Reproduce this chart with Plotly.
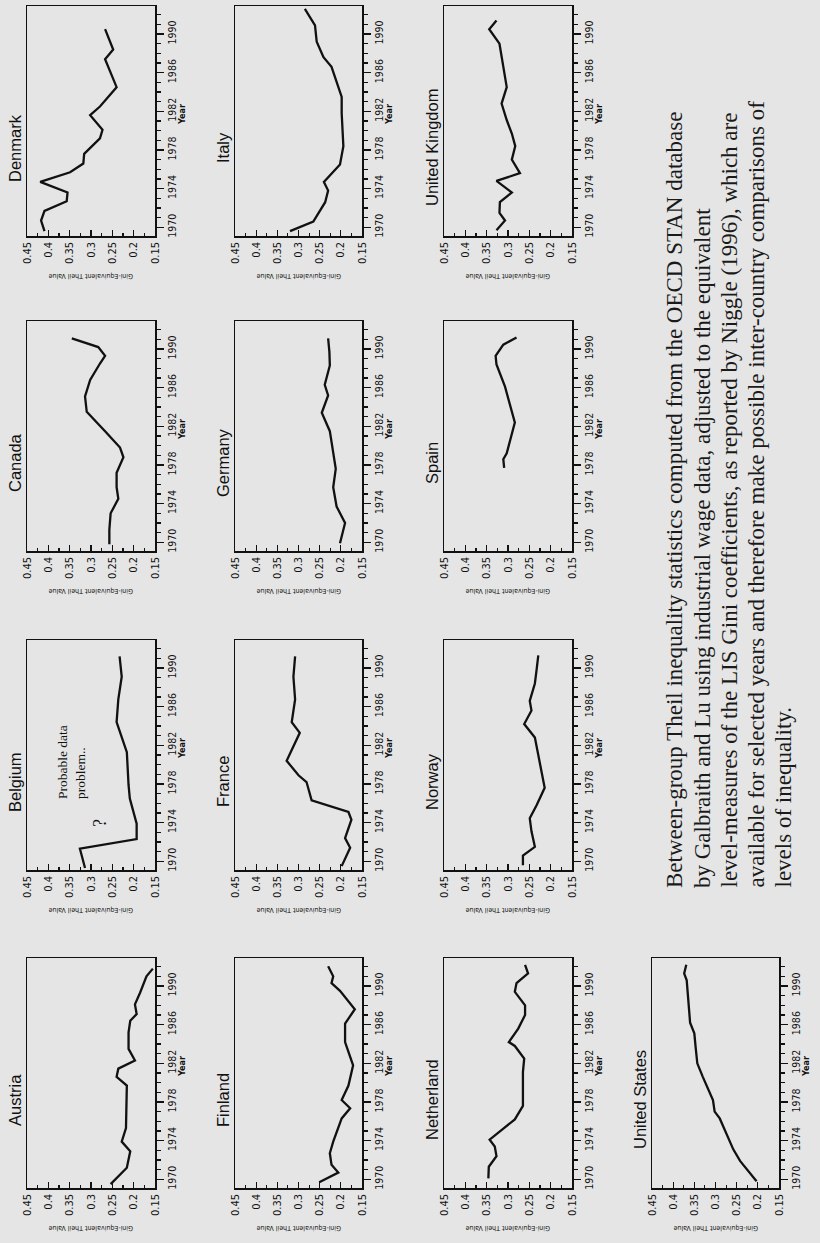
import plotly.graph_objects as go

W, H = 820, 1243

# ---------------- data ----------------
denmark_years = [1969.6, 1970.7, 1971.7, 1972.7, 1973.6, 1974.7, 1975.7, 1976.6, 1977.6, 1979.2, 1980.1, 1981.6, 1982.5, 1984.5, 1987.4, 1988.4, 1990.5]
denmark_vals = [0.409, 0.417, 0.409, 0.357, 0.355, 0.419, 0.349, 0.318, 0.316, 0.279, 0.273, 0.302, 0.279, 0.240, 0.267, 0.248, 0.267]

italy_years = [1969.6, 1970.6, 1972.6, 1973.8, 1974.7, 1976.5, 1978.4, 1981.8, 1983.5, 1986.6, 1987.6, 1989.2, 1990.9, 1992.6]
italy_vals = [0.320, 0.265, 0.237, 0.230, 0.240, 0.202, 0.194, 0.198, 0.198, 0.222, 0.241, 0.257, 0.261, 0.285]

uk_years = [1969.7, 1970.7, 1971.5, 1972.6, 1973.6, 1974.8, 1975.6, 1977.0, 1978.4, 1979.7, 1981.1, 1982.8, 1984.5, 1986.6, 1989.0, 1990.5, 1991.4]
uk_vals = [0.327, 0.307, 0.320, 0.319, 0.291, 0.327, 0.272, 0.291, 0.283, 0.291, 0.303, 0.315, 0.303, 0.311, 0.320, 0.344, 0.327]

canada_years = [1969.8, 1971.3, 1973.0, 1974.5, 1975.7, 1977.2, 1978.8, 1979.8, 1981.5, 1983.5, 1985.1, 1986.8, 1988.5, 1989.3, 1990.2, 1991.1]
canada_vals = [0.257, 0.257, 0.254, 0.236, 0.240, 0.240, 0.224, 0.232, 0.267, 0.310, 0.314, 0.302, 0.279, 0.267, 0.283, 0.345]

germany_years = [1969.9, 1972.0, 1973.7, 1975.7, 1977.6, 1979.1, 1981.5, 1983.4, 1985.2, 1986.3, 1988.3, 1989.7, 1991.1]
germany_vals = [0.202, 0.190, 0.210, 0.218, 0.212, 0.218, 0.226, 0.245, 0.230, 0.238, 0.226, 0.227, 0.230]

spain_years = [1977.7, 1978.6, 1979.2, 1982.4, 1986.1, 1988.4, 1989.3, 1990.45, 1991.2]
spain_vals = [0.309, 0.311, 0.303, 0.284, 0.307, 0.327, 0.329, 0.311, 0.280]

belgium_years = [1969.3, 1971.3, 1972.3, 1973.9, 1976.5, 1977.9, 1981.3, 1983.3, 1984.4, 1986.75, 1989.1, 1991.2]
belgium_vals = [0.314, 0.326, 0.193, 0.193, 0.209, 0.212, 0.216, 0.232, 0.240, 0.236, 0.228, 0.233]

france_years = [1969.5, 1971.4, 1972.4, 1974.3, 1975.1, 1976.3, 1978.2, 1978.9, 1980.4, 1983.3, 1984.4, 1986.75, 1989.1, 1991.2]
france_vals = [0.198, 0.178, 0.190, 0.175, 0.182, 0.269, 0.281, 0.300, 0.328, 0.297, 0.316, 0.308, 0.312, 0.308]

norway_years = [1969.6, 1970.6, 1971.5, 1973.1, 1974.45, 1975.8, 1977.6, 1979.3, 1981.1, 1982.8, 1984.2, 1985.6, 1986.6, 1988.4, 1989.8, 1991.3]
norway_vals = [0.265, 0.265, 0.237, 0.245, 0.249, 0.233, 0.214, 0.222, 0.229, 0.237, 0.262, 0.245, 0.249, 0.237, 0.233, 0.229]

austria_years = [1969.5, 1971.2, 1972.9, 1973.9, 1975.3, 1979.1, 1979.7, 1980.6, 1981.45, 1982.3, 1983.5, 1985.2, 1986.4, 1987.1, 1988.1, 1989.3, 1991.0, 1991.8]
austria_vals = [0.254, 0.216, 0.208, 0.228, 0.218, 0.216, 0.216, 0.240, 0.236, 0.197, 0.212, 0.212, 0.208, 0.193, 0.197, 0.185, 0.170, 0.155]

finland_years = [1969.7, 1970.7, 1971.5, 1972.7, 1973.9, 1976.3, 1977.35, 1978.2, 1979.7, 1981.8, 1984.2, 1986.1, 1987.6, 1989.5, 1990.3, 1991.0, 1992.05]
finland_vals = [0.251, 0.206, 0.222, 0.226, 0.218, 0.198, 0.178, 0.198, 0.182, 0.171, 0.190, 0.190, 0.167, 0.202, 0.222, 0.218, 0.230]

netherland_years = [1970.1, 1971.3, 1972.4, 1973.4, 1974.1, 1975.1, 1976.2, 1977.6, 1981.1, 1982.5, 1983.8, 1984.2, 1985.6, 1987.0, 1988.0, 1989.4, 1990.3, 1991.3, 1992.2]
netherland_vals = [0.346, 0.345, 0.327, 0.331, 0.343, 0.315, 0.284, 0.265, 0.265, 0.262, 0.284, 0.298, 0.276, 0.260, 0.260, 0.284, 0.280, 0.253, 0.260]

us_years = [1969.8, 1971.9, 1973.1, 1974.3, 1975.0, 1976.3, 1977.0, 1978.2, 1980.6, 1982.0, 1983.7, 1985.1, 1986.2, 1987.9, 1989.5, 1990.6, 1991.3, 1992.2]
us_vals = [0.203, 0.242, 0.258, 0.270, 0.278, 0.290, 0.302, 0.306, 0.330, 0.343, 0.347, 0.350, 0.360, 0.364, 0.366, 0.368, 0.374, 0.369]

value_ticks = [0.45, 0.4, 0.35, 0.3, 0.25, 0.2, 0.15]
value_labels = ["0.45", "0.4", "0.35", "0.3", "0.25", "0.2", "0.15"]
year_ticks = [1970, 1974, 1978, 1982, 1986, 1990]
year_labels = ["1970", "1974", "1978", "1982", "1986", "1990"]

caption_lines = [
    "Between-group Theil inequality statistics computed from the OECD STAN database",
    "by Galbraith and Lu using industrial wage data, adjusted to the equivalent",
    "level-measures of the LIS Gini coefficients, as reported by Niggle (1996), which are",
    "available for selected years and therefore make possible inter-country comparisons of",
    "levels of inequality.",
]

series = [
    ("Denmark", denmark_years, denmark_vals),
    ("Italy", italy_years, italy_vals),
    ("United Kingdom", uk_years, uk_vals),
    ("Canada", canada_years, canada_vals),
    ("Germany", germany_years, germany_vals),
    ("Spain", spain_years, spain_vals),
    ("Belgium", belgium_years, belgium_vals),
    ("France", france_years, france_vals),
    ("Norway", norway_years, norway_vals),
    ("Austria", austria_years, austria_vals),
    ("Finland", finland_years, finland_vals),
    ("Netherland", netherland_years, netherland_vals),
    ("United States", us_years, us_vals),
]

# ---------------- layout geometry (pixels of the page) ----------------
col_x = [(27, 155), (235, 362), (444, 572), (652, 779)]
row_y = [(6, 236), (321, 551), (640, 870), (958, 1188)]
grid_pos = {
    "Denmark": (0, 0), "Italy": (1, 0), "United Kingdom": (2, 0),
    "Canada": (0, 1), "Germany": (1, 1), "Spain": (2, 1),
    "Belgium": (0, 2), "France": (1, 2), "Norway": (2, 2),
    "Austria": (0, 3), "Finland": (1, 3), "Netherland": (2, 3),
    "United States": (3, 3),
}

INK = "#111111"
BG = "#e5e5e5"
SANS = "Liberation Sans, Arial, sans-serif"
NARROW = "Liberation Sans Narrow, DejaVu Sans Condensed, Arial Narrow, sans-serif"
SERIF = "Liberation Serif, Times New Roman, serif"


def px_x(p):
    return p / W


def px_y(p):
    return 1 - p / H


fig = go.Figure()
layout = dict(
    width=W, height=H,
    margin=dict(l=0, r=0, t=0, b=0),
    paper_bgcolor=BG, plot_bgcolor="rgba(0,0,0,0)",
    showlegend=False,
)
annotations = []

for i, (name, yrs, vals) in enumerate(series, start=1):
    c, r = grid_pos[name]
    x0, x1 = col_x[c]
    y0, y1 = row_y[r]
    xa = "xaxis" if i == 1 else f"xaxis{i}"
    ya = "yaxis" if i == 1 else f"yaxis{i}"
    xr = "x" if i == 1 else f"x{i}"
    yr = "y" if i == 1 else f"y{i}"
    fig.add_trace(go.Scatter(
        x=vals, y=yrs, mode="lines", xaxis=xr, yaxis=yr,
        line=dict(color=INK, width=2.3), hoverinfo="skip",
    ))
    layout[xa] = dict(
        domain=[px_x(x0), px_x(x1)], anchor=yr,
        range=[0.45, 0.15], tickvals=value_ticks, ticktext=value_labels,
        tickangle=-90, ticks="inside", ticklen=6, tickwidth=1.3, tickcolor=INK,
        minor=dict(tick0=0.15, dtick=0.025, ticks="inside", ticklen=3, tickwidth=1.1, tickcolor=INK),
        showline=True, mirror=True, linecolor=INK, linewidth=1.5,
        showgrid=False, zeroline=False, fixedrange=True, automargin=False,
        tickfont=dict(family=NARROW, size=11, color=INK),
    )
    layout[ya] = dict(
        domain=[px_y(y1), px_y(y0)], anchor=xr, side="right",
        range=[1969.1, 1992.9], tickvals=year_ticks, ticktext=year_labels,
        tickangle=-90, ticks="outside", ticklen=7, tickwidth=1.3, tickcolor=INK,
        minor=dict(tick0=1970, dtick=1, ticks="outside", ticklen=4, tickwidth=1.1, tickcolor=INK),
        showline=True, mirror=True, linecolor=INK, linewidth=1.5,
        showgrid=False, zeroline=False, fixedrange=True, automargin=False,
        tickfont=dict(family=NARROW, size=10.5, color=INK),
    )
    # panel title
    annotations.append(dict(
        text=name, x=px_x(x0 - 12), y=px_y(y0 + 142), xref="paper", yref="paper",
        textangle=-90, showarrow=False, xanchor="center", yanchor="middle",
        font=dict(family=SANS, size=16.5, color=INK),
    ))
    # year axis title
    annotations.append(dict(
        text="<b>Year</b>", x=px_x(x1 + 27), y=px_y(y0 + 109), xref="paper", yref="paper",
        textangle=-90, showarrow=False, xanchor="center", yanchor="middle",
        font=dict(family=NARROW, size=9, color=INK),
    ))
    # value axis title (upside down in the scan)
    annotations.append(dict(
        text="Gini-Equivalent Theil Value", x=px_x((x0 + x1) / 2), y=px_y(y1 + 40),
        xref="paper", yref="paper", textangle=180, showarrow=False,
        xanchor="center", yanchor="middle",
        font=dict(family=NARROW, size=7, color=INK),
    ))

# Belgium note
annotations.append(dict(
    text="Probable data", x=px_x(62), y=px_y(801), xref="paper", yref="paper",
    textangle=-90, showarrow=False, xanchor="center", yanchor="bottom",
    font=dict(family=SERIF, size=13.5, color=INK),
))
annotations.append(dict(
    text="problem..", x=px_x(80), y=px_y(801), xref="paper", yref="paper",
    textangle=-90, showarrow=False, xanchor="center", yanchor="bottom",
    font=dict(family=SERIF, size=13.5, color=INK),
))
annotations.append(dict(
    text="?", x=px_x(100), y=px_y(823), xref="paper", yref="paper",
    textangle=-90, showarrow=False, xanchor="center", yanchor="middle",
    font=dict(family=SERIF, size=18, color=INK),
))

# caption (rotated, reading bottom-to-top)
cap_x = [674, 702, 729, 756, 783]
for line, cx in zip(caption_lines, cap_x):
    annotations.append(dict(
        text=line, x=px_x(cx), y=px_y(890), xref="paper", yref="paper",
        textangle=-90, showarrow=False, xanchor="center", yanchor="bottom",
        font=dict(family=SERIF, size=23, color="#1a1a1a"),
    ))

layout["annotations"] = annotations
fig.update_layout(**layout)
fig.write_html(
    "out.html",
    config={"displayModeBar": False, "staticPlot": True},
    post_script="document.body.style.margin='0px';document.body.style.background='" + BG + "';",
)
